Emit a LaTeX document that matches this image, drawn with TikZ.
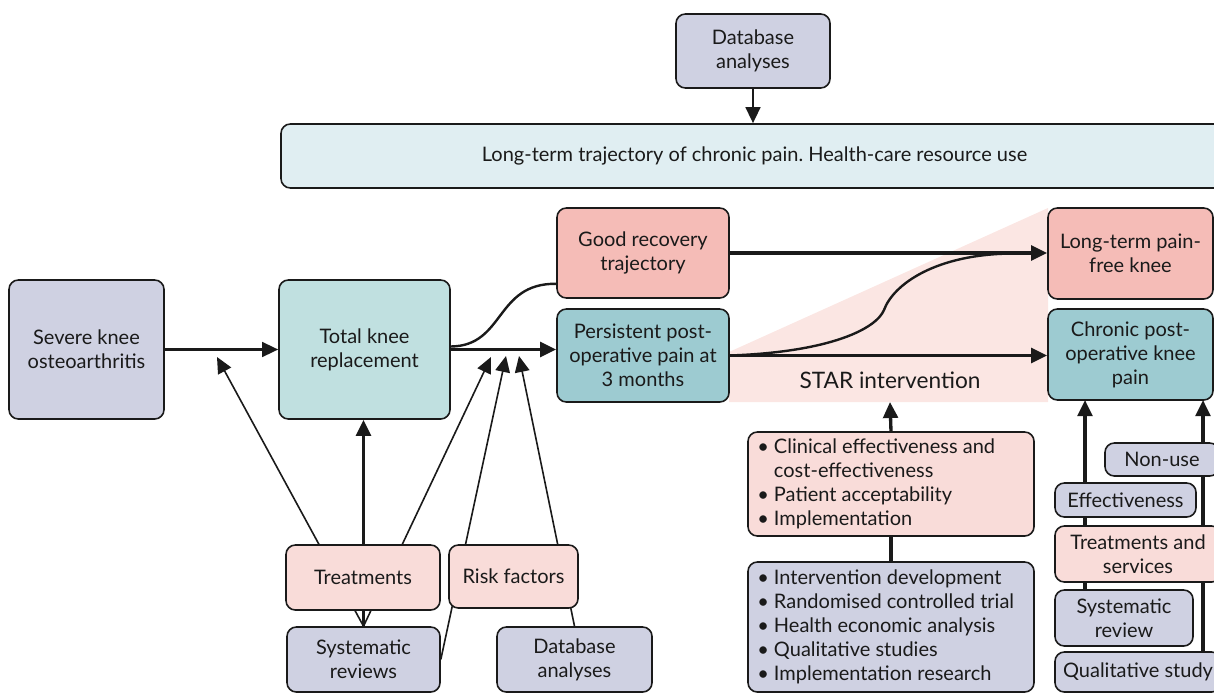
\documentclass[tikz,border=0pt]{standalone}
\usepackage{fontspec}
\setmainfont{Lato}
\usetikzlibrary{arrows.meta,calc}
\definecolor{lav}{HTML}{CFD1E2}
\definecolor{tkrc}{HTML}{C0E0E0}
\definecolor{tealc}{HTML}{9DCBD1}
\definecolor{salm}{HTML}{F5BCB7}
\definecolor{pinkl}{HTML}{F9DCD9}
\definecolor{barc}{HTML}{E0EEF2}
\definecolor{shadec}{HTML}{FBE6E3}
\definecolor{ink}{HTML}{1A1A1A}
\pgfdeclarelayer{back}
\pgfdeclarelayer{lines}
\pgfsetlayers{back,lines,main}
\frenchspacing

\begin{document}
\begin{tikzpicture}[x=0.75pt,y=-0.75pt,
  font=\fontsize{15pt}{18pt}\selectfont,
  box/.style={draw=ink, line width=1.2pt, rounded corners=7pt, align=center, inner sep=0pt, text=ink},
  cornerbox/.style n args={4}{minimum width={(#3-#1)*0.75pt}, minimum height={(#4-#2)*0.75pt},
    at={({(#1+#3)/2},{(#2+#4)/2})}},
  arr/.style={-{Triangle[length=12pt,width=11pt]}},
  wire/.style={line width=1.2pt, draw=ink},
  mid/.style={line width=1.8pt, draw=ink},
  heavy/.style={line width=2.5pt, draw=ink},
  listtext/.style={anchor=west, align=left, inner sep=0pt, text=ink},
]
\useasboundingbox (0,0) rectangle (1214,699);

% ---- boxes ----
\node[box, fill=lav, cornerbox={676}{14}{830}{88}] (dbtop) {Database\\analyses};
\node[box, fill=barc, cornerbox={281}{124}{1228}{188}] (bar)
  {Long-term trajectory of chronic pain. Health-care resource use};
\node[box, fill=lav, cornerbox={9}{280}{164}{419}] (severe) {Severe knee\\osteoarthritis};
\node[box, fill=tkrc, cornerbox={279}{280}{450}{419}] (tkr) {Total knee\\replacement};
\node[box, fill=salm, cornerbox={557}{208}{729}{298}] (good) {Good recovery\\trajectory};
\node[box, fill=tealc, cornerbox={557}{309}{729}{402}] (persist) {Persistent post-\\operative pain at\\3 months};
\node[box, fill=salm, cornerbox={1048}{208}{1213}{299}] (free) {Long-term pain-\\free knee};
\node[box, fill=tealc, cornerbox={1048}{309}{1213}{400}] (chronic) {Chronic post-\\operative knee\\pain};
\node[box, fill=pinkl, cornerbox={286}{545}{440}{610}] (treat) {Treatments};
\node[box, fill=pinkl, cornerbox={449}{545}{578}{608}] (risk) {Risk factors};
\node[box, fill=lav, cornerbox={287}{627}{440}{692}] (sysrev) {Systematic\\reviews};
\node[box, fill=lav, cornerbox={497}{627}{652}{692}] (dbbot) {Database\\analyses};

\node[text=ink, font=\fontsize{17pt}{20pt}\selectfont] (star) at (890,380) {STAR intervention};

\node[box, fill=pinkl, cornerbox={748}{432}{1034}{536}] (clin) {};
\node[listtext] (clintext) at (757,484)
  {\textbullet\ Clinical effectiveness and\\
   \hphantom{\textbullet\ }cost-effectiveness\\
   \textbullet\ Patient acceptability\\
   \textbullet\ Implementation};
\node[box, fill=lav, cornerbox={748}{562}{1034}{692}] (interv) {};
\node[listtext] (intervtext) at (757,627)
  {\textbullet\ Intervention development\\
   \textbullet\ Randomised controlled trial\\
   \textbullet\ Health economic analysis\\
   \textbullet\ Qualitative studies\\
   \textbullet\ Implementation research};

\node[box, fill=lav, cornerbox={1105}{443}{1219}{476}] (nonuse) {Non-use};
\node[box, fill=lav, cornerbox={1055}{483}{1196}{517}] (effect) {Effectiveness};
\node[box, fill=pinkl, cornerbox={1055}{526}{1221}{582}] (tands) {Treatments and\\services};
\node[box, fill=lav, cornerbox={1055}{590}{1193}{646}] (sysrev2) {Systematic\\review};
\node[box, fill=lav, cornerbox={1055}{652}{1221}{692}] (qual) {Qualitative study};

% ---- free ends of connectors ----
\coordinate (a1) at (217,357);
\coordinate (a2) at (491,357);
\coordinate (a3) at (506,356);
\coordinate (a4) at (519,356);
\coordinate (starin) at (890,402);
\coordinate (lcol) at (1085,400);
\coordinate (rcol) at (1203,400);
\coordinate (bend) at (884,310);
\coordinate (merge) at (1015,253.5);

% ---- shaded STAR band ----
\begin{pgfonlayer}{back}
  \fill[shadec] (729,352) -- (1048,208) -- (1048,402) -- (729,402) -- cycle;
\end{pgfonlayer}

% ---- connectors ----
\begin{pgfonlayer}{lines}
  \draw[mid, arr] (dbtop.south) -- (dbtop.south |- bar.north);
  \draw[mid, arr] (severe.east) -- (tkr.west);
  \draw[heavy, arr] (tkr.east) -- (tkr.east -| persist.west);
  \draw[mid] ($(tkr.east)+(0,-3)$) .. controls (505,346) and (495,283) .. ($(good.south west)+(0,-15)$);
  \draw[heavy, arr] (good.east) -- (good.east -| free.west);
  \draw[heavy, arr] (persist.east) -- (persist.east -| chronic.west);
  \draw[mid] (persist.east) .. controls (830,352) and (876,329) .. (bend)
             .. controls (893,285) and (935,253.5) .. (merge);

  \draw[wire, arr] (sysrev.north) -- (a1);
  \draw[heavy, arr] (sysrev.north) -- (sysrev.north |- tkr.south);
  \draw[wire, arr] (sysrev.north) -- (a2);
  \draw[wire, arr] (sysrev.east) -- (a3);
  \draw[wire, arr] (dbbot.north) -- (a4);

  \draw[heavy, arr] (clin.north) -- (starin);
  \draw[heavy] (clin.south) -- (interv.north);

  \draw[heavy, arr] (sysrev2.north -| lcol) -- (lcol);
  \draw[heavy, arr] (qual.north -| rcol) -- (rcol);
\end{pgfonlayer}
\end{tikzpicture}
\end{document}
